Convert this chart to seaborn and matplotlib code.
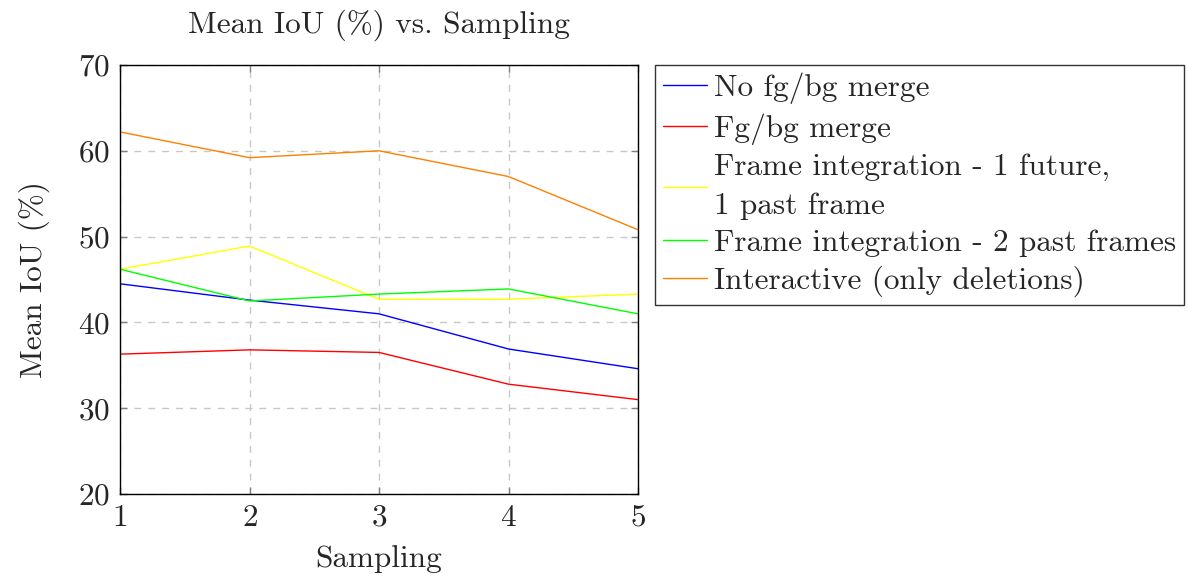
import matplotlib
matplotlib.use('Agg')
import matplotlib.pyplot as plt
import seaborn as sns
import pandas as pd

sampling = [1, 2, 3, 4, 5]
no_merge = [44.5, 42.6, 41.0, 36.9, 34.6]
fg_bg_merge = [36.3, 36.8, 36.5, 32.8, 31.0]
frame_future_past = [46.2, 48.9, 42.7, 42.7, 43.3]
frame_two_past = [46.2, 42.5, 43.3, 43.9, 41.0]
interactive = [62.2, 59.2, 60.0, 57.0, 50.8]

series_names = [
    'No fg/bg merge',
    'Fg/bg merge',
    'Frame integration - 1 future,\n1 past frame',
    'Frame integration - 2 past frames',
    'Interactive (only deletions)',
]
series_values = [no_merge, fg_bg_merge, frame_future_past, frame_two_past, interactive]
colors = ['#0000ff', '#ff0000', '#ffff00', '#00ff00', '#ff8000']

rows = []
for name, vals in zip(series_names, series_values):
    for s, v in zip(sampling, vals):
        rows.append({'Sampling': s, 'IoU': v, 'series': name})
df = pd.DataFrame(rows)

sns.set_theme(style='white')
plt.rcParams['font.family'] = ['cmr10', 'DejaVu Serif']
plt.rcParams['mathtext.fontset'] = 'cm'
plt.rcParams['axes.formatter.use_mathtext'] = True

FS = 22.5

fig = plt.figure(figsize=(11.88, 5.79), dpi=100)
ax = fig.add_axes([120 / 1188, 1 - 494 / 579, 518 / 1188, 429 / 579])

sns.lineplot(data=df, x='Sampling', y='IoU', hue='series', hue_order=series_names,
             palette=dict(zip(series_names, colors)), linewidth=1.0, ax=ax,
             legend=True)

ax.set_xlim(1, 5)
ax.set_ylim(20, 70)
ax.set_xticks(sampling)
ax.set_yticks(range(20, 71, 10))
ax.grid(True, color='#c8c8c8', linestyle=(0, (5, 5)), linewidth=1.0)
for sp in ax.spines.values():
    sp.set_color('black')
    sp.set_linewidth(1.0)
ax.tick_params(direction='in', length=5, width=1, color='#808080',
               labelsize=FS, pad=7, top=True, right=True, bottom=True, left=True)

ax.set_title('Mean IoU (%) vs. Sampling', fontsize=FS, pad=23)
ax.set_xlabel('Sampling', fontsize=FS, labelpad=10)
ax.set_ylabel('Mean IoU (%)', fontsize=FS, labelpad=20)

handles, labels = ax.get_legend_handles_labels()
leg = ax.legend(handles, labels, loc='upper left', bbox_to_anchor=(655 / 1188, 1 - 65 / 579),
                bbox_transform=fig.transFigure, fontsize=FS, frameon=True, fancybox=False,
                edgecolor='black', handlelength=1.4, handletextpad=0.25,
                borderpad=0.25, labelspacing=0.28, borderaxespad=0)
leg.get_frame().set_linewidth(1.0)
for t in leg.get_texts():
    t.set_linespacing(1.5)

fig.savefig('out.png', dpi=100)
